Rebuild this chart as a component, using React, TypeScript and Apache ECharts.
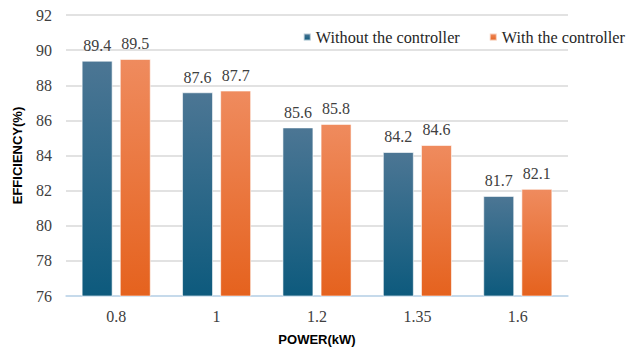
import React, { useEffect, useRef } from "react";
import * as echarts from "echarts";

const categories = ["0.8", "1", "1.2", "1.35", "1.6"];
const withoutCtrl = [89.4, 87.6, 85.6, 84.2, 81.7];
const withCtrl = [89.5, 87.7, 85.8, 84.6, 82.1];
const seriesNames = ["Without the controller", "With the controller"];

const serif = "Liberation Serif";
const sans = "Liberation Sans";

function grad(top: string, bottom: string) {
  return new echarts.graphic.LinearGradient(0, 0, 0, 1, [
    { offset: 0, color: top },
    { offset: 1, color: bottom },
  ]);
}

export default function App() {
  const ref = useRef<HTMLDivElement>(null);
  useEffect(() => {
    if (!ref.current) return;
    const chart = echarts.init(ref.current, null, { renderer: "svg" });
    const labelStyle = {
      show: true,
      position: "top" as const,
      distance: 7,
      fontFamily: serif,
      fontSize: 16,
      color: "#404040",
    };
    chart.setOption({
      animation: false,
      backgroundColor: "#ffffff",
      textStyle: { fontFamily: serif },
      grid: { left: 66, right: 75, top: 15, bottom: 53, containLabel: false },
      legend: {
        data: seriesNames,
        right: 13,
        top: 24,
        icon: "rect",
        itemWidth: 7,
        itemHeight: 7,
        itemGap: 29,
        textStyle: { fontFamily: serif, fontSize: 16.3, color: "#262626" },
      },
      xAxis: {
        type: "category",
        data: categories,
        name: "POWER(kW)",
        nameLocation: "middle",
        nameGap: 37,
        nameTextStyle: { fontFamily: sans, fontWeight: "bold", fontSize: 13, color: "#000000" },
        axisLine: { lineStyle: { color: "#bdd7ee", width: 1.5 } },
        axisTick: { show: false },
        axisLabel: { fontFamily: serif, fontSize: 16, color: "#404040", margin: 12 },
      },
      yAxis: {
        type: "value",
        min: 76,
        max: 92,
        interval: 2,
        name: "EFFICIENCY(%)",
        nameLocation: "middle",
        nameGap: 42,
        nameRotate: 90,
        nameTextStyle: { fontFamily: sans, fontWeight: "bold", fontSize: 13, color: "#000000" },
        axisLine: { show: false },
        axisTick: { show: false },
        axisLabel: { fontFamily: serif, fontSize: 16, color: "#404040", margin: 14 },
        splitLine: { lineStyle: { color: "#d9d9d9", width: 1.5 } },
      },
      series: [
        {
          name: seriesNames[0],
          type: "bar",
          data: withoutCtrl,
          barWidth: 31,
          barGap: "23%",
          itemStyle: {
            color: grad("#4c7694", "#0d5a7d"),
            borderColor: "rgba(255,255,255,0.6)",
            borderWidth: 1,
          },
          label: labelStyle,
        },
        {
          name: seriesNames[1],
          type: "bar",
          data: withCtrl,
          barWidth: 31,
          itemStyle: {
            color: grad("#ef8b5e", "#e5621e"),
            borderColor: "rgba(255,255,255,0.6)",
            borderWidth: 1,
          },
          label: labelStyle,
        },
      ],
    });
    return () => chart.dispose();
  }, []);
  return (
    <div
      ref={ref}
      style={{ position: "fixed", left: 0, top: 0, width: 643, height: 351 }}
    />
  );
}
